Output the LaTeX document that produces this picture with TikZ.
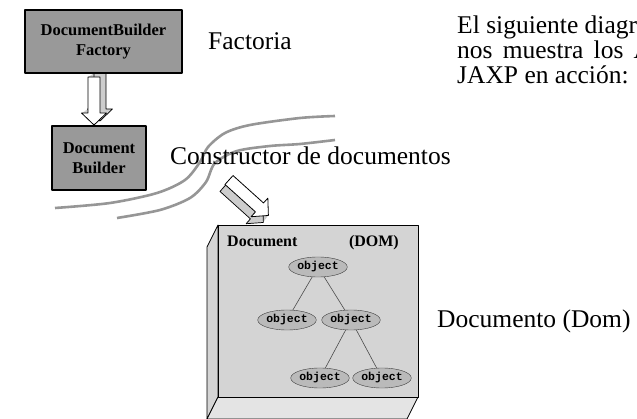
\documentclass[tikz,border=0pt]{standalone}
\usepackage{fontspec}
\setmainfont{Liberation Serif}
\newfontfamily\objfont{Liberation Mono}
\usetikzlibrary{shapes.geometric,calc}

\definecolor{boxgray}{RGB}{153,153,153}
\definecolor{domface}{RGB}{212,212,212}
\definecolor{domside}{RGB}{228,228,228}
\definecolor{objgray}{RGB}{186,186,186}
\definecolor{wavegray}{RGB}{150,150,150}
\definecolor{arrowside}{RGB}{205,205,205}

% hollow 3d block arrow: #1 tail, #2 angle, #3 length, #4 #5 depth
\newcommand{\blockarrow}[5]{%
  \def\arrowshape{(0,-6) -- ({#3-12},-6) -- ({#3-12},-12.5) -- (#3,0)
    -- ({#3-12},12.5) -- ({#3-12},6) -- (0,6) -- cycle}%
  \begin{scope}[shift={#1}]
    \foreach \t in {1,0.9,...,0.05}{
      \begin{scope}[shift={({\t*(#4)},{\t*(#5)})},rotate=#2]
        \fill[arrowside] \arrowshape;
      \end{scope}}
    \begin{scope}[shift={(#4,#5)},rotate=#2]
      \draw[line width=0.7pt] \arrowshape;
    \end{scope}
    \begin{scope}[rotate=#2]
      \draw[line width=0.8pt,fill=white] \arrowshape;
    \end{scope}
  \end{scope}}

\tikzset{
  builder/.style={draw, line width=1.2pt, fill=boxgray, align=center,
    font=\fontsize{16.5}{20}\selectfont\bfseries},
  obj/.style={ellipse, draw=black!75, fill=objgray, inner sep=0pt,
    minimum width=54pt, minimum height=20pt,
    font=\objfont\bfseries\fontsize{11.5}{12}\selectfont},
  tree/.style={black!70, line width=0.6pt},
  wave/.style={wavegray, line width=2.6pt},
  label/.style={anchor=base west, inner sep=0pt,
    font=\fontsize{25.5}{26}\selectfont},
}

\begin{document}
\begin{tikzpicture}[x=1pt,y=-1pt,line join=round]
\useasboundingbox (0,0) rectangle (637,419);

% the two swoosh lines
\draw[wave] plot[smooth] coordinates {(55,208) (110,203) (157,193) (185,180)
  (200,162) (208,147) (225,133) (250,125) (300,118) (335,116)};
\draw[wave] plot[smooth] coordinates {(117,218) (160,210) (190,198) (206,182)
  (215,163) (237,151) (270,146) (300,144) (335,140)};

% DOM slab
\draw[line width=0.7pt,fill=domface] (218,225) -- (207,247) -- (207,419) -- (218,397) -- cycle;
\draw[line width=0.7pt,fill=domside] (218,397) -- (418,397) -- (407,419) -- (207,419) -- cycle;
\draw[line width=0.7pt,fill=domface] (218,225) rectangle (418,397);
\node[anchor=base west, inner sep=0pt, font=\fontsize{16}{16}\selectfont\bfseries] (doc) at (227,247) {Document};
\node[anchor=base east, inner sep=0pt, font=\fontsize{16}{16}\selectfont\bfseries] (dom) at (399,247) {(DOM)};

% object tree
\node[obj] (root) at (318,267) {object};
\node[obj] (left) at (287,320) {object};
\node[obj] (right) at (351,320) {object};
\node[obj] (rleft) at (320,378) {object};
\node[obj] (rright) at (382,378) {object};
\draw[tree] (root) -- (left);
\draw[tree] (root) -- (right);
\draw[tree] (right) -- (rleft);
\draw[tree] (right) -- (rright);

% builders
\coordinate (a1) at (94,77);
\blockarrow{(a1)}{-90}{48}{6}{-4}
\node[builder, minimum width=157pt, minimum height=63pt] (fac) at (103.5,41.5) {DocumentBuilder\\Factory};
\node[builder, minimum width=94pt, minimum height=64pt] (bld) at (99,158) {Document\\Builder};

\coordinate (a2) at (229,180);
\blockarrow{(a2)}{-42}{53}{-5}{7}

% captions
\node[label] (fact) at (208,50) {Factoria};
\node[label] (cons) at (170,165) {Constructor de documentos};
\node[label] (domtxt) at (437,328) {Documento (Dom)};
\node[label] (p1) at (457,34) {El siguiente diagrama};
\node[label] (p2) at (457,59) {nos\hspace{0.4em}muestra\hspace{0.4em}los\hspace{0.4em}APIs de};
\node[label] (p3) at (457,84) {JAXP en acción:};
\end{tikzpicture}
\end{document}
